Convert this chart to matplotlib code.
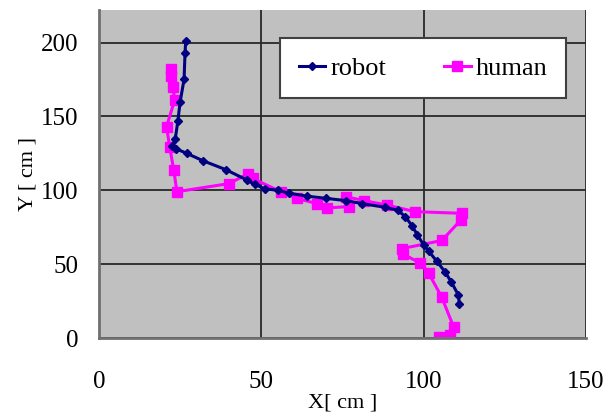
import matplotlib
matplotlib.use("Agg")
import matplotlib.pyplot as plt

robot_x = [26.7, 26.5, 26.2, 25.0, 24.3, 23.5, 22.6, 23.8, 27.0, 32.0, 39.0, 45.5, 48.0, 51.0, 55.0, 58.6,
           64.0, 70.0, 76.0, 81.0, 88.0, 92.0, 94.4, 96.4, 98.0, 100.0, 101.5, 104.0, 106.5, 108.5, 110.7, 111.0]
robot_y = [201, 193, 175, 160, 147, 135, 130, 128, 125, 120, 114, 107, 104, 101, 100, 98,
           96, 94.5, 93, 91, 88.5, 86.5, 82, 76, 70, 63, 59, 52, 45, 38, 29, 23]

human_x = [22.3, 22.3, 22.8, 23.3, 20.8, 21.8, 23.0, 24.0, 40.0, 45.8, 47.3, 56.0, 61.0, 67.0, 70.3, 77.0,
           76.0, 81.6, 88.6, 97.4, 111.7, 111.5, 105.6, 93.3, 93.5, 99.0, 101.5, 105.5, 109.2, 108.2, 104.6]
human_y = [182, 177, 170, 161, 143, 129, 114, 99, 104.5, 111, 108, 99, 94.5, 91, 88, 89,
           95.7, 93, 90, 85.5, 84.4, 80, 66, 60.5, 57, 50.6, 44, 28, 7.6, 2, 1]

x_ticks = [0, 50, 100, 150]
y_ticks = [0, 50, 100, 150, 200]

plt.rcParams['font.family'] = ['Liberation Serif', 'DejaVu Serif']

fig = plt.figure(figsize=(6.16, 4.19), dpi=100)
ax = fig.add_axes([99/616, 1-338/419, 487/616, 328/419])
ax.set_facecolor('#C0C0C0')

ax.plot(robot_x, robot_y, color='#000080', lw=2.2, marker='D', ms=4, label='robot', zorder=3)
ax.plot(human_x, human_y, color='#FF00FF', lw=2.2, marker='s', ms=6.5, label='human', zorder=2)

ax.set_xlim(0, 150)
ax.set_ylim(0, 222)
ax.set_xticks(x_ticks)
ax.set_yticks(y_ticks)
ax.grid(True, color='#282828', lw=1.3)
ax.set_axisbelow(True)
ax.tick_params(axis='both', length=0, labelsize=18)
ax.tick_params(axis='x', pad=24)
ax.tick_params(axis='y', pad=15)

for s in ['top', 'right']:
    ax.spines[s].set_visible(False)
for s in ['left', 'bottom']:
    ax.spines[s].set_color('#707070')
    ax.spines[s].set_linewidth(2)

ax.set_xlabel('X[ cm ]', fontsize=16, labelpad=0)
ax.set_ylabel('Y [ cm ]', fontsize=16, labelpad=2)

leg = ax.legend(loc='upper right', bbox_to_anchor=(0.959, 0.915),
                ncol=2, fontsize=19, handlelength=1.0, handletextpad=0.2, columnspacing=2.2,
                borderpad=0.7, fancybox=False, framealpha=1, borderaxespad=0)
leg.get_frame().set_edgecolor('#404040')
leg.get_frame().set_linewidth(1.5)

fig.savefig('out.png', dpi=100)
